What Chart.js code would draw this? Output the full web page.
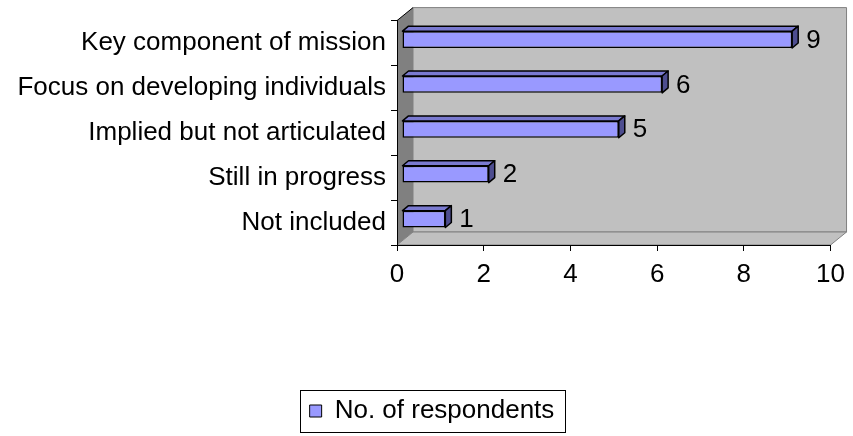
<!DOCTYPE html>
<html>
<head>
<meta charset="utf-8">
<script src="https://cdn.jsdelivr.net/npm/chart.js@4/dist/chart.umd.min.js"></script>
<style>
  html, body { margin: 0; padding: 0; background: #fff; }
  #wrap { width: 853px; height: 436px; }
</style>
</head>
<body>
<div id="wrap"><canvas id="canvasGrafico" width="853" height="436"></canvas></div>
<script>
const categorias = [
  'Key component of mission',
  'Focus on developing individuals',
  'Implied but not articulated',
  'Still in progress',
  'Not included'
];
const respondentes = [9, 6, 5, 2, 1];
const ticksX = [0, 2, 4, 6, 8, 10];

const fonte = "'Liberation Sans', Arial, sans-serif";

// 3d look: walls behind the bars
const paredes = {
  id: 'paredes',
  beforeDraw(chart) {
    const a = chart.chartArea;
    const c = chart.ctx;
    const dx = 16, dy = 13;
    c.save();
    c.lineWidth = 1;
    c.strokeStyle = '#808080';
    // back wall
    c.fillStyle = '#c0c0c0';
    c.beginPath();
    c.moveTo(a.left + dx, a.top - dy);
    c.lineTo(a.right + dx, a.top - dy);
    c.lineTo(a.right + dx, a.bottom - dy);
    c.lineTo(a.left + dx, a.bottom - dy);
    c.closePath();
    c.fill();
    c.stroke();
    // floor
    c.beginPath();
    c.moveTo(a.left, a.bottom);
    c.lineTo(a.left + dx, a.bottom - dy);
    c.lineTo(a.right + dx, a.bottom - dy);
    c.lineTo(a.right, a.bottom);
    c.closePath();
    c.fill();
    c.stroke();
    // left wall
    c.fillStyle = '#808080';
    c.strokeStyle = '#000';
    c.beginPath();
    c.moveTo(a.left, a.top);
    c.lineTo(a.left + dx, a.top - dy);
    c.lineTo(a.left + dx, a.bottom - dy);
    c.lineTo(a.left, a.bottom);
    c.closePath();
    c.fill();
    c.beginPath();
    c.moveTo(a.left, a.top);
    c.lineTo(a.left + dx, a.top - dy);
    c.stroke();
    c.restore();
  }
};

// bars sit in the middle of the depth, plus top/side faces and value labels
const barras3d = {
  id: 'barras3d',
  beforeDatasetsDraw(chart) {
    chart.ctx.save();
    chart.ctx.translate(5, -3.5);
  },
  afterDatasetsDraw(chart) {
    const c = chart.ctx;
    const dx = 6, dy = 5;
    const meta = chart.getDatasetMeta(0);
    meta.data.forEach(function (el, i) {
      const p = el.getProps(['x', 'y', 'base', 'height'], true);
      const t = p.y - p.height / 2;
      const b = p.y + p.height / 2;
      c.lineWidth = 1.5;
      c.strokeStyle = '#000';
      c.lineJoin = 'round';
      // top
      c.fillStyle = '#7a7ad0';
      c.beginPath();
      c.moveTo(p.base, t);
      c.lineTo(p.base + dx, t - dy);
      c.lineTo(p.x + dx, t - dy);
      c.lineTo(p.x, t);
      c.closePath();
      c.fill();
      c.stroke();
      // side
      c.fillStyle = '#4d4d8f';
      c.beginPath();
      c.moveTo(p.x, t);
      c.lineTo(p.x + dx, t - dy);
      c.lineTo(p.x + dx, b - dy);
      c.lineTo(p.x, b);
      c.closePath();
      c.fill();
      c.stroke();
      // value
      c.fillStyle = '#000';
      c.font = '26px ' + fonte;
      c.textAlign = 'left';
      c.textBaseline = 'middle';
      c.fillText(String(respondentes[i]), p.x + dx + 8, p.y + 1);
    });
    c.restore();
  }
};

// legend sits a little right of centre, with a border
const bordaLegenda = {
  id: 'bordaLegenda',
  afterLayout(chart) {
    const l = chart.legend;
    if (!l) return;
    l.left += 14;
    l.right += 14;
  },
  afterDraw(chart) {
    const l = chart.legend;
    if (!l || !l.legendHitBoxes.length) return;
    const h = l.legendHitBoxes[0];
    const c = chart.ctx;
    c.save();
    c.strokeStyle = '#000';
    c.lineWidth = 1;
    c.strokeRect(Math.round(h.left - 10) + 0.5, Math.round(h.top - 8) + 0.5,
                 Math.round(h.width + 20), Math.round(h.height + 16));
    c.restore();
  }
};

const data = {
  labels: categorias,
  datasets: [{
    label: 'No. of respondents',
    data: respondentes,
    backgroundColor: '#9999ff',
    borderColor: '#000',
    borderWidth: 1.5,
    borderSkipped: false,
    categoryPercentage: 1,
    barPercentage: 0.375
  }]
};

const config = {
  type: 'bar',
  data: data,
  plugins: [paredes, barras3d, bordaLegenda],
  options: {
    indexAxis: 'y',
    responsive: false,
    animation: false,
    layout: { padding: { top: 19, right: 17, left: 0, bottom: 2 } },
    scales: {
      x: {
        min: ticksX[0],
        max: ticksX[ticksX.length - 1],
        afterBuildTicks(scale) {
          scale.ticks = ticksX.map(v => ({ value: v }));
        },
        afterFit(scale) { scale.height = 147; },
        grid: { drawOnChartArea: false, drawTicks: true, tickLength: 6, color: '#000' },
        border: { display: true, color: '#000', width: 1 },
        ticks: { color: '#000', font: { family: fonte, size: 26 }, padding: 8, maxRotation: 0 }
      },
      y: {
        afterFit(scale) { scale.width = 397; },
        grid: { drawOnChartArea: false, drawTicks: true, tickLength: 6, color: '#000', offset: true },
        border: { display: true, color: '#000', width: 1 },
        ticks: { color: '#000', font: { family: fonte, size: 26 }, padding: 5 }
      }
    },
    plugins: {
      legend: {
        position: 'bottom',
        labels: {
          color: '#000',
          font: { family: fonte, size: 26 },
          boxWidth: 12,
          boxHeight: 12,
          padding: 6,
          generateLabels(chart) {
            return [{
              text: chart.data.datasets[0].label,
              fillStyle: '#9999ff',
              strokeStyle: '#000',
              lineWidth: 1,
              datasetIndex: 0
            }];
          }
        }
      },
      tooltip: { enabled: false }
    }
  }
};

const graficoDash = new Chart(
  document.getElementById('canvasGrafico'),
  config
);
</script>
</body>
</html>
